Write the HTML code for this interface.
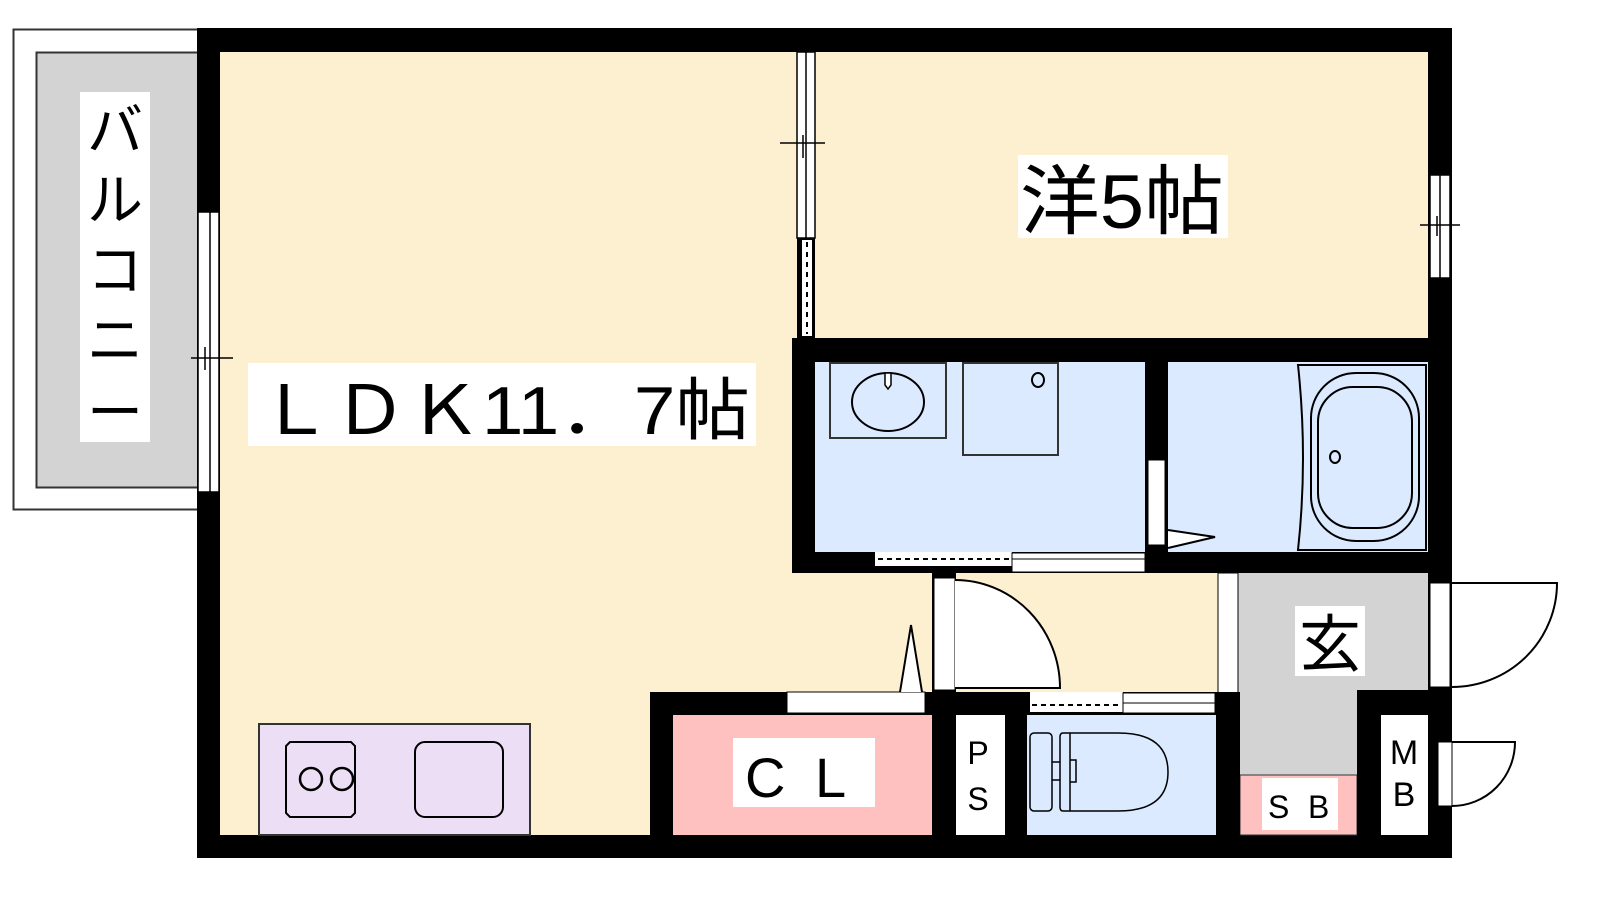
<!DOCTYPE html>
<html><head><meta charset="utf-8"><style>
html,body{margin:0;padding:0;background:#fff;width:1600px;height:900px;overflow:hidden}
svg{display:block}
text{font-family:"Liberation Sans","Noto Sans CJK JP",sans-serif;fill:#000}
</style></head><body>
<svg width="1600" height="900" viewBox="0 0 1600 900" xmlns="http://www.w3.org/2000/svg">
<!-- balcony -->
<rect x="13.5" y="29.5" width="200" height="480" fill="#fff" stroke="#333" stroke-width="2"/>
<rect x="36.5" y="52.5" width="165" height="435" fill="#d3d3d3" stroke="#333" stroke-width="2"/>
<rect x="80" y="92" width="70" height="350" fill="#fff"/>
<g font-size="56" text-anchor="middle">
<text x="115" y="150">バ</text><text x="115" y="220">ル</text><text x="115" y="290">コ</text><text x="115" y="360">ニ</text><text x="115" y="432">ー</text>
</g>
<!-- outer wall -->
<rect x="197" y="28" width="1255" height="830" fill="#000"/>
<!-- LDK floor -->
<rect x="220" y="52" width="1208" height="783" fill="#fdf0d0"/>
<!-- bedroom partition -->
<rect x="797" y="52" width="18" height="286" fill="#000"/>
<rect x="797" y="52" width="18" height="186" fill="#fff" stroke="#000" stroke-width="1.5"/>
<line x1="806" y1="52" x2="806" y2="238" stroke="#000" stroke-width="1.5"/>
<line x1="780" y1="143" x2="825" y2="143" stroke="#000" stroke-width="1.5"/>
<line x1="803" y1="135" x2="803" y2="158" stroke="#000" stroke-width="1.5"/>
<rect x="802" y="240" width="10" height="96" fill="#fff"/>
<line x1="807" y1="242" x2="807" y2="334" stroke="#000" stroke-width="2" stroke-dasharray="5,5"/>
<!-- LDK left window -->
<rect x="198" y="212" width="21" height="280" fill="#fff" stroke="#000" stroke-width="1.5"/>
<line x1="210" y1="212" x2="210" y2="492" stroke="#000" stroke-width="1.5"/>
<line x1="191" y1="358" x2="233" y2="358" stroke="#000" stroke-width="1.5"/>
<line x1="205" y1="347" x2="205" y2="370" stroke="#000" stroke-width="1.5"/>
<!-- bedroom right window -->
<rect x="1430" y="175" width="20" height="103" fill="#fff" stroke="#000" stroke-width="1.5"/>
<line x1="1440" y1="175" x2="1440" y2="278" stroke="#000" stroke-width="1.5"/>
<line x1="1420" y1="225" x2="1460" y2="225" stroke="#000" stroke-width="1.5"/>
<line x1="1437" y1="216" x2="1437" y2="236" stroke="#000" stroke-width="1.5"/>
<!-- wet block -->
<rect x="792" y="338" width="660" height="235" fill="#000"/>
<rect x="815" y="362" width="330" height="190" fill="#dbeaff"/>
<rect x="1168" y="362" width="260" height="190" fill="#dbeaff"/>
<rect x="830" y="363" width="116" height="75" fill="none" stroke="#333" stroke-width="2"/>
<ellipse cx="888" cy="402" rx="36" ry="29" fill="none" stroke="#000" stroke-width="2"/>
<path d="M885 373 h6 v12 l-3 4 l-3 -4 z" fill="#fff" stroke="#000" stroke-width="1.5"/>
<rect x="963" y="363" width="95" height="92" fill="none" stroke="#333" stroke-width="2"/>
<ellipse cx="1038" cy="380" rx="6" ry="7" fill="none" stroke="#000" stroke-width="2"/>
<rect x="1148" y="460" width="17" height="85" fill="#fff" stroke="#000" stroke-width="1"/>
<path d="M1168 530 L1215 537 L1168 548" fill="#fff" stroke="#000" stroke-width="2"/>
<path d="M1298 365 H1426 V550 H1298 Q1308 458 1298 365 Z" fill="none" stroke="#000" stroke-width="2"/>
<rect x="1311" y="373" width="108" height="168" rx="45" fill="none" stroke="#000" stroke-width="2"/>
<rect x="1318" y="387" width="94" height="141" rx="35" fill="none" stroke="#000" stroke-width="2"/>
<ellipse cx="1335" cy="457" rx="5" ry="6" fill="none" stroke="#000" stroke-width="2"/>
<!-- washroom sliding door -->
<rect x="875" y="552" width="137" height="14" fill="#fff"/>
<line x1="878" y1="559" x2="1010" y2="559" stroke="#000" stroke-width="2" stroke-dasharray="5,4"/>
<rect x="1012" y="553" width="133" height="19" fill="#fff" stroke="#000" stroke-width="1"/>
<line x1="1012" y1="559" x2="1145" y2="559" stroke="#000" stroke-width="1"/>
<!-- genkan -->
<rect x="1238" y="573" width="190" height="117" fill="#d3d3d3"/>
<rect x="1238" y="690" width="119" height="87" fill="#d3d3d3"/>
<rect x="1240" y="775" width="117" height="60" fill="#ffc0c0" stroke="#333" stroke-width="1"/>
<rect x="1218" y="573" width="20" height="120" fill="#fff" stroke="#000" stroke-width="1"/>
<!-- entrance door -->
<rect x="1452" y="573" width="150" height="130" fill="#fff"/>
<rect x="1430" y="583" width="20" height="104" fill="#fff" stroke="#000" stroke-width="1"/>
<path d="M1452 583 H1557 A105 104 0 0 1 1452 687" fill="none" stroke="#000" stroke-width="2"/>
<!-- walls bottom area -->
<rect x="1357" y="690" width="95" height="25" fill="#000"/>
<rect x="1357" y="690" width="24" height="145" fill="#000"/>
<rect x="1381" y="715" width="47" height="120" fill="#fff"/>
<rect x="1216" y="692" width="24" height="143" fill="#000"/>
<rect x="650" y="692" width="382" height="23" fill="#000"/>
<rect x="650" y="692" width="23" height="143" fill="#000"/>
<rect x="932" y="572" width="24" height="263" fill="#000"/>
<rect x="1005" y="692" width="22" height="143" fill="#000"/>
<rect x="1027" y="692" width="189" height="23" fill="#000"/>
<rect x="673" y="715" width="259" height="120" fill="#ffc0c0"/>
<rect x="956" y="715" width="49" height="120" fill="#fff"/>
<rect x="1027" y="715" width="189" height="120" fill="#dbeaff"/>
<!-- toilet door -->
<rect x="1030" y="692" width="93" height="20" fill="#fff"/>
<line x1="1032" y1="705" x2="1120" y2="705" stroke="#000" stroke-width="2" stroke-dasharray="5,4"/>
<rect x="1123" y="693" width="92" height="20" fill="#fff" stroke="#000" stroke-width="1"/>
<line x1="1123" y1="703" x2="1215" y2="703" stroke="#000" stroke-width="1"/>
<!-- toilet -->
<rect x="1030" y="733" width="22" height="78" rx="4" fill="none" stroke="#000" stroke-width="1.5"/>
<path d="M1063 733 H1118 Q1168 733 1168 772 Q1168 811 1118 811 H1063 Q1060 811 1060 807 V737 Q1060 733 1063 733 Z" fill="none" stroke="#000" stroke-width="1.5"/>
<line x1="1070" y1="733" x2="1070" y2="811" stroke="#000" stroke-width="1.5"/>
<path d="M1070 760 H1076 V782 H1070" fill="none" stroke="#000" stroke-width="1.5"/>
<line x1="1052" y1="762" x2="1060" y2="762" stroke="#000" stroke-width="1.5"/>
<line x1="1052" y1="780" x2="1060" y2="780" stroke="#000" stroke-width="1.5"/>
<!-- CL door -->
<rect x="787" y="692" width="138" height="21" fill="#fff" stroke="#000" stroke-width="1"/>
<path d="M900 692 L911 625 L922 692" fill="#fff" stroke="#000" stroke-width="2"/>
<!-- LDK->corridor door -->
<rect x="934" y="578" width="21" height="112" fill="#fff" stroke="#000" stroke-width="1"/>
<path d="M955 580 A105 108 0 0 1 1060 688 H955" fill="#fff" stroke="#000" stroke-width="2"/>
<!-- MB door -->
<path d="M1452 742 H1515 A63 64 0 0 1 1452 806" fill="#fff" stroke="#000" stroke-width="2"/>
<rect x="1438" y="742" width="14" height="64" fill="#fff" stroke="#000" stroke-width="1"/>
<!-- kitchen -->
<rect x="259" y="724" width="271" height="111" fill="#ecdff5" stroke="#333" stroke-width="2"/>
<path d="M290 742 H351 L355 746 V813 L351 817 H290 L286 813 V746 Z" fill="none" stroke="#000" stroke-width="2"/>
<circle cx="311" cy="779" r="11" fill="none" stroke="#000" stroke-width="2.5"/>
<circle cx="342" cy="779" r="11" fill="none" stroke="#000" stroke-width="2.5"/>
<rect x="415" y="742" width="88" height="75" rx="10" fill="none" stroke="#000" stroke-width="2"/>
<!-- labels -->
<rect x="248" y="363" width="508" height="83" fill="#fff"/>
<text x="258" y="434" font-size="68" textLength="492" lengthAdjust="spacingAndGlyphs">ＬＤＫ11．7帖</text>
<rect x="1018" y="155" width="210" height="83" fill="#fff"/>
<text x="1020" y="228" font-size="76" textLength="204" lengthAdjust="spacingAndGlyphs">洋5帖</text>
<rect x="733" y="738" width="142" height="69" fill="#fff"/>
<text x="745" y="797" font-size="56">C</text><text x="815" y="797" font-size="56">L</text>
<rect x="1295" y="606" width="70" height="70" fill="#fff"/>
<text x="1330" y="666" font-size="62" text-anchor="middle">玄</text>
<rect x="1262" y="778" width="76" height="52" fill="#fff"/>
<text x="1268" y="818" font-size="32">S</text><text x="1308" y="818" font-size="32">B</text>
<text x="1404" y="764" font-size="34" text-anchor="middle">M</text>
<text x="1404" y="806" font-size="34" text-anchor="middle">B</text>
<text x="978" y="764" font-size="32" text-anchor="middle">P</text>
<text x="978" y="810" font-size="32" text-anchor="middle">S</text>
</svg>
</body></html>
